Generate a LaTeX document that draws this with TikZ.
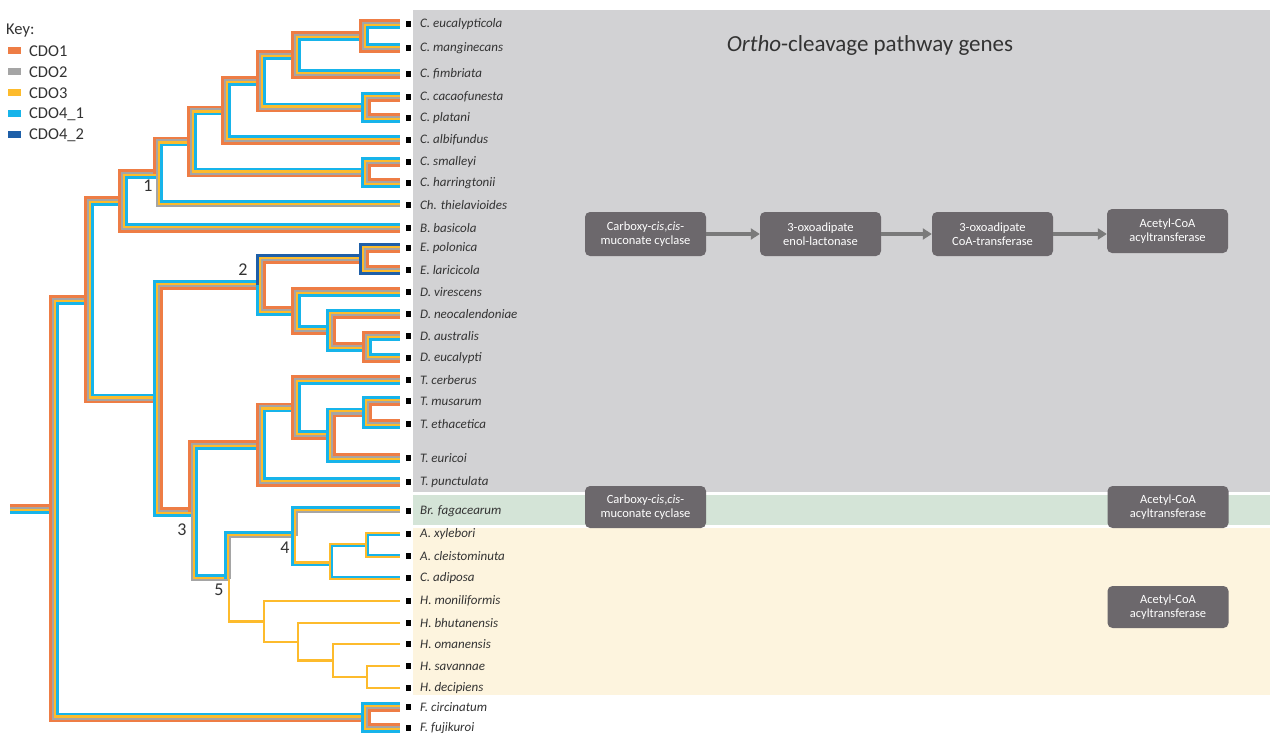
\documentclass[tikz,border=0pt]{standalone}
\usepackage{fontspec}
\setmainfont{Carlito}
\usetikzlibrary{arrows.meta}
\definecolor{cdoone}{HTML}{EE7D45}
\definecolor{cdotwo}{HTML}{A5A5A5}
\definecolor{cdothree}{HTML}{FDBB2C}
\definecolor{cdofour}{HTML}{17B4EA}
\definecolor{cdofive}{HTML}{1E5FA8}
\definecolor{panelgray}{HTML}{D2D2D4}
\definecolor{panelgreen}{HTML}{D4E4D7}
\definecolor{panelyellow}{HTML}{FDF4DE}
\definecolor{boxgray}{HTML}{6C686C}
\definecolor{arrowgray}{HTML}{7A7A7A}
\definecolor{labelgray}{HTML}{333333}
\newcommand{\keyfont}{\fontsize{16.5}{18}\selectfont}
\newcommand{\sgap}{2.3}
% stripe orders, outer to inner
\newcommand{\Ofull}{cdoA/1.5,cdoB/0.5,cdoC/-0.5,cdoD/-1.5}
\newcommand{\Rfull}{cdoD/1.5,cdoC/0.5,cdoB/-0.5,cdoA/-1.5}
\newcommand{\Efull}{cdoE/1.5,cdoC/0.5,cdoB/-0.5,cdoA/-1.5}
\newcommand{\Othree}{cdoB/0.5,cdoC/-0.5,cdoD/-1.5}
\newcommand{\Rthree}{cdoD/1.5,cdoC/0.5,cdoB/-0.5}
\newcommand{\Rtwo}{cdoD/1.5,cdoC/0.5}
\newcommand{\Otwo}{cdoC/0.5,cdoD/-0.5}
\newcommand{\Oone}{cdoCc/0}
% elbow: node x, node y, child y, child x, stripes
\newcommand{\elbow}[5]{%
  \pgfmathsetmacro{\elbsg}{sign(#3-#2)}%
  \foreach \col/\off in #5 {%
    \draw[\col] ({#1-\off*\sgap},#2) |- ({#4},{#3+\elbsg*\off*\sgap});
  }%
}
\tikzset{
  stripe/.style={line width=2.5pt, line join=miter},
  cdoA/.style={stripe, draw=cdoone},
  cdoB/.style={stripe, draw=cdotwo},
  cdoC/.style={stripe, draw=cdothree},
  cdoCc/.style={stripe, draw=cdothree, line width=2.9pt},
  cdoD/.style={stripe, draw=cdofour},
  cdoE/.style={stripe, draw=cdofive},
  leaf/.style={anchor=west, inner sep=0pt, text=labelgray, font=\fontsize{13}{15}\selectfont\itshape},
  tip/.style={fill=black, inner sep=0pt, minimum size=5.5pt},
  enzyme/.style={fill=boxgray, rounded corners=5pt, text=white, align=center, minimum width=121pt, minimum height=44pt, inner sep=2pt, font=\fontsize{12.5}{14}\selectfont},
  flow/.style={draw=arrowgray, line width=3.5pt, -{Triangle[length=9pt, width=11pt]}},
  keychip/.style={inner sep=0pt, minimum width=13pt, minimum height=7pt},
  event/.style={text=labelgray, inner sep=0pt, font=\fontsize{18}{20}\selectfont}
}
\begin{document}
\begin{tikzpicture}[x=1pt, y=-1pt]
    \useasboundingbox (0,0) rectangle (1272,733);
    \fill[white] (0,0) rectangle (1272,733);
    \fill[panelgray] (413,10) rectangle (1270,492);
    \fill[panelgreen] (413,495) rectangle (1270,525);
    \fill[panelyellow] (413,528) rectangle (1270,695);

    % key
    \node[anchor=west, inner sep=0pt, text=labelgray, font=\keyfont] (key) at (6,31) {Key:};
    \foreach \col/\txt [count=\i] in {cdoone/CDO1, cdotwo/CDO2, cdothree/CDO3, cdofour/CDO4\_1, cdofive/CDO4\_2} {
        \node[keychip, fill=\col] (chip\i) at (14.5,{30+21*\i}) {};
        \node[anchor=west, inner sep=0pt, text=labelgray, font=\keyfont] (keylab\i) at (29,{30+21*\i}) {\txt};
    }

    % root
    \foreach \col/\off in \Ofull {\draw[\col] (10,{509-\off*\sgap}) -- (54,{509-\off*\sgap});}
    \elbow{54}{509}{300}{89}{\Ofull}
    \elbow{54}{509}{717.5}{366}{\Ofull}
    \elbow{89}{300}{201}{123}{\Ofull}
    \elbow{89}{300}{398.5}{158}{\Ofull}

    % Ceratocystis and relatives
    \elbow{123}{201}{174}{158}{\Ofull}
    \elbow{123}{201}{228}{400}{\Ofull}
    \elbow{158}{174}{141.5}{192}{\Ofull}
    \elbow{158}{174}{205}{400}{\Othree}
    \elbow{192}{141.5}{110.5}{226}{\Ofull}
    \elbow{192}{141.5}{172.5}{366}{\Ofull}
    \elbow{226}{110.5}{81}{261}{\Ofull}
    \elbow{226}{110.5}{140}{400}{\Ofull}
    \elbow{261}{81}{55}{296}{\Ofull}
    \elbow{261}{81}{107.5}{366}{\Ofull}
    \elbow{296}{55}{36}{364}{\Ofull}
    \elbow{296}{55}{74}{400}{\Ofull}
    \elbow{364}{36}{24}{400}{\Ofull}
    \elbow{364}{36}{48}{400}{\Ofull}
    \elbow{366}{107.5}{97}{400}{\Rfull}
    \elbow{366}{107.5}{118}{400}{\Rfull}
    \elbow{366}{172.5}{162}{400}{\Rfull}
    \elbow{366}{172.5}{183}{400}{\Rfull}

    % Endoconidiophora and Davidsoniella
    \elbow{158}{398.5}{285}{261}{\Rfull}
    \elbow{158}{398.5}{512}{193}{\Rfull}
    \elbow{261}{285}{259}{364}{\Efull}
    \elbow{261}{285}{311}{296}{\Rfull}
    \elbow{364}{259}{248}{400}{\Efull}
    \elbow{364}{259}{270}{400}{\Efull}
    \elbow{296}{311}{292}{400}{\Ofull}
    \elbow{296}{311}{330}{331}{\Ofull}
    \elbow{331}{330}{314}{400}{\Rfull}
    \elbow{331}{330}{347}{367}{\Rfull}
    \elbow{367}{347}{336}{400}{\Ofull}
    \elbow{367}{347}{358}{400}{\Ofull}

    % Thielaviopsis
    \elbow{193}{512}{445}{261}{\Ofull}
    \elbow{193}{512}{579}{229}{\Othree}
    \elbow{261}{445}{407.5}{296}{\Ofull}
    \elbow{261}{445}{482}{400}{\Ofull}
    \elbow{296}{407.5}{380}{400}{\Ofull}
    \elbow{296}{407.5}{435}{331}{\Ofull}
    \elbow{331}{435}{412.5}{367}{\Rfull}
    \elbow{331}{435}{458}{400}{\Rfull}
    \elbow{367}{412.5}{401}{400}{\Rfull}
    \elbow{367}{412.5}{424}{400}{\Rfull}

    % Bretziella, Ambrosiella, Huntiella
    \elbow{229}{579}{536}{296}{\Rthree}
    \elbow{229}{579}{621.5}{264}{\Oone}
    \elbow{296}{536}{511}{400}{\Rthree}
    \elbow{296}{536}{561.5}{331}{\Rtwo}
    \elbow{331}{561.5}{545}{367}{\Otwo}
    \elbow{331}{561.5}{578}{400}{\Otwo}
    \elbow{367}{545}{534}{400}{\Otwo}
    \elbow{367}{545}{556}{400}{\Otwo}
    \elbow{264}{621.5}{601}{400}{\Oone}
    \elbow{264}{621.5}{642}{298}{\Oone}
    \elbow{298}{642}{623}{400}{\Oone}
    \elbow{298}{642}{660.5}{333}{\Oone}
    \elbow{333}{660.5}{644}{400}{\Oone}
    \elbow{333}{660.5}{677}{367}{\Oone}
    \elbow{367}{677}{666}{400}{\Oone}
    \elbow{367}{677}{688}{400}{\Oone}

    % Fusarium
    \elbow{366}{717.5}{707}{400}{\Rfull}
    \elbow{366}{717.5}{728}{400}{\Rfull}

    % events
    \node[event] (ev1) at (148,186) {1};
    \node[event] (ev2) at (243,270) {2};
    \node[event] (ev3) at (182,530) {3};
    \node[event] (ev4) at (285,548) {4};
    \node[event] (ev5) at (219,590) {5};

    % taxa
    \foreach \y/\name [count=\i] in {24/C. eucalypticola, 48/C. manginecans, 74/C. fimbriata, 97/C. cacaofunesta, 118/C. platani, 140/C. albifundus, 162/C. smalleyi, 183/C. harringtonii, 205/Ch. thielavioides, 228/B. basicola, 248/E. polonica, 270/E. laricicola, 292/D. virescens, 314/D. neocalendoniae, 336/D. australis, 358/D. eucalypti, 380/T. cerberus, 401/T. musarum, 424/T. ethacetica, 458/T. euricoi, 482/T. punctulata, 511/Br. fagacearum, 534/A. xylebori, 556/A. cleistominuta, 578/C. adiposa, 601/H. moniliformis, 623/H. bhutanensis, 644/H. omanensis, 666/H. savannae, 688/H. decipiens, 707/F. circinatum, 728/F. fujikuroi} {
        \node[tip] (tip\i) at (408.5,\y) {};
        \node[leaf] (taxon\i) at (420,\y) {\name};
    }

    % pathway
    \node[text=labelgray, font=\fontsize{23}{26}\selectfont] (title) at (870,45) {\textit{Ortho}-cleavage pathway genes};
    \node[enzyme] (cyc) at (645.5,234) {Carboxy-\textit{cis},\textit{cis}-\\muconate cyclase};
    \node[enzyme] (lac) at (820.5,234) {3-oxoadipate\\enol-lactonase};
    \node[enzyme] (trans) at (992.5,234) {3-oxoadipate\\CoA-transferase};
    \node[enzyme] (acyl) at (1167.5,231) {Acetyl-CoA\\acyltransferase};
    \draw[flow] (cyc.east) -- (lac.west);
    \draw[flow] (lac.east) -- (trans.west);
    \draw[flow] (trans.east) -- (trans.east -| acyl.west);

    \node[enzyme, minimum height=42pt] (cycbr) at (645.5,507) {Carboxy-\textit{cis},\textit{cis}-\\muconate cyclase};
    \node[enzyme, minimum height=42pt] (acylbr) at (1168,507) {Acetyl-CoA\\acyltransferase};
    \node[enzyme, minimum height=42pt] (acylh) at (1168,607) {Acetyl-CoA\\acyltransferase};
\end{tikzpicture}
\end{document}
